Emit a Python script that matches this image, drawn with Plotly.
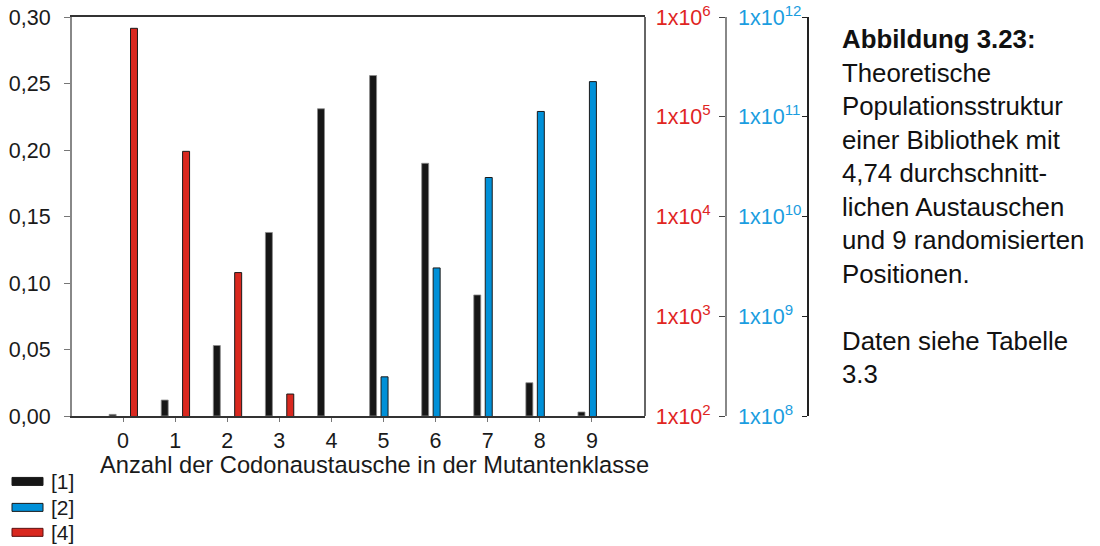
import plotly.graph_objects as go

# ---------------- data ----------------
klassen = [0, 1, 2, 3, 4, 5, 6, 7, 8, 9]
x_ticktext = ["0", "1", "2", "3", "4", "5", "6", "7", "8", "9"]
serie_namen = ["[1]", "[2]", "[4]"]
anteil_1 = [0.0012, 0.012, 0.053, 0.138, 0.231, 0.256, 0.190, 0.091, 0.025, 0.003]
wert_2 = [None, None, None, None, None, 2.47e8, 3.05e9, 2.46e10, 1.13e11, 2.25e11]
wert_4 = [7.7e5, 4.5e4, 2.74e3, 1.66e2, None, None, None, None, None, None]
links_ticks = [0.0, 0.05, 0.10, 0.15, 0.20, 0.25, 0.30]
rot_exponenten = [2, 3, 4, 5, 6]
blau_exponenten = [8, 9, 10, 11, 12]
x_titel = "Anzahl der Codonaustausche in der Mutantenklasse"
caption_lines = ["<b>Abbildung 3.23:</b>", "Theoretische", "Populationsstruktur",
                 "einer Bibliothek mit", "4,74 durchschnitt-", "lichen Austauschen",
                 "und 9 randomisierten", "Positionen.", "", "Daten siehe Tabelle", "3.3"]

# ---------------- geometry helpers ----------------
W, H = 1100, 546
L, T, B = 72, 17, 416.5
R_MARGIN = 292
PW = W - L - R_MARGIN
PH = B - T


def px(x):
    return (x - L) / PW


def py(y):
    return (B - y) / PH


FONT = "Liberation Sans, Arial, sans-serif"
TXT = "#1a1a1a"
RED_T = "#e0251f"
BLUE_T = "#1a9de0"
BLACK_F = "#161616"
BLUE_F = "#0090d8"
RED_F = "#d9281f"

rot_vals = [10 ** e for e in rot_exponenten]
rot_text = ["1x10<sup>%d</sup>" % e for e in rot_exponenten]
blau_vals = [10 ** e for e in blau_exponenten]
blau_text = ["1x10<sup>%d</sup>" % e for e in blau_exponenten]

fig = go.Figure()
fig.add_trace(go.Bar(x=klassen, y=anteil_1, name=serie_namen[0], yaxis="y",
                     width=0.134, offset=-0.267,
                     marker=dict(color=BLACK_F, line=dict(color="#8a8a8a", width=0.8)),
                     showlegend=False))
fig.add_trace(go.Bar(x=klassen, y=wert_2, name=serie_namen[1], yaxis="y4",
                     width=0.134, offset=-0.047,
                     marker=dict(color=BLUE_F, line=dict(color="#1a1a1a", width=1)),
                     showlegend=False))
# invisible copy of series [2] so that the label-only blue axis is rendered
fig.add_trace(go.Scatter(x=klassen, y=wert_2, yaxis="y3", mode="markers",
                         marker=dict(opacity=0), hoverinfo="skip", showlegend=False))
fig.add_trace(go.Bar(x=klassen, y=wert_4, name=serie_namen[2], yaxis="y2",
                     width=0.134, offset=0.143,
                     marker=dict(color=RED_F, line=dict(color="#1a1a1a", width=1)),
                     showlegend=False))

fig.update_layout(
    width=W, height=H,
    margin=dict(l=L, r=R_MARGIN, t=T, b=H - B, pad=0, autoexpand=False),
    paper_bgcolor="white", plot_bgcolor="white",
    separators=",.",
    barmode="overlay",
    font=dict(family=FONT, size=21, color=TXT),
    xaxis=dict(domain=[0, px(645)], range=[-0.98, 10.02], automargin=False,
               tickvals=klassen, ticktext=x_ticktext,
               showline=True, linecolor="#333333", linewidth=1.5, mirror=True,
               ticks="outside", ticklen=4, tickcolor="#777777", tickwidth=1,
               showgrid=False, zeroline=False,
               tickfont=dict(size=21.5, color=TXT)),
    yaxis=dict(range=[0, 0.30], tickvals=links_ticks, tickformat=".2f", automargin=False,
               showline=True, linecolor="#888888", linewidth=2,
               ticks="outside", ticklen=6, tickcolor="#777777", tickwidth=1,
               ticklabelstandoff=9,
               showgrid=False, zeroline=False,
               tickfont=dict(size=21.5, color=TXT)),
    yaxis2=dict(overlaying="y", type="log", range=[2, 6], side="left", automargin=False,
                anchor="free", position=px(726),
                tickvals=rot_vals, ticktext=rot_text,
                showline=True, linecolor="#888888", linewidth=2,
                ticks="outside", ticklen=6, tickcolor="#444444", tickwidth=1,
                ticklabelstandoff=4,
                showgrid=False, zeroline=False,
                tickfont=dict(size=21.5, color=RED_T)),
    yaxis3=dict(overlaying="y", type="log", range=[8, 12], side="right", automargin=False,
                anchor="free", position=px(737),
                tickvals=blau_vals, ticktext=blau_text,
                showline=False, ticks="", showgrid=False, zeroline=False,
                tickfont=dict(size=21.5, color=BLUE_T)),
    yaxis4=dict(overlaying="y", type="log", range=[8, 12], side="left", automargin=False,
                anchor="free", position=1.0,
                tickvals=blau_vals, showticklabels=False,
                showline=True, linecolor="#222222", linewidth=1.5,
                ticks="outside", ticklen=5, tickcolor="#222222", tickwidth=1,
                showgrid=False, zeroline=False),
)

# right border of the plot box
fig.add_shape(type="line", xref="x domain", yref="y domain", x0=1, x1=1, y0=0, y1=1,
              line=dict(color="#333333", width=1.5))

# x-axis title
fig.add_annotation(x=px(374), y=py(466), xref="paper", yref="paper", text=x_titel,
                   showarrow=False, xanchor="center", yanchor="middle",
                   font=dict(size=23.7, color=TXT, family=FONT))

# caption
fig.add_annotation(x=px(840), y=py(206.5), xref="paper", yref="paper",
                   text="<br>".join(caption_lines), align="left",
                   showarrow=False, xanchor="left", yanchor="middle",
                   font=dict(size=25.8, color="#111111", family=FONT))

# legend (drawn manually)
leg_colors = [BLACK_F, BLUE_F, RED_F]
leg_lines = ["#1a1a1a", "#1a1a1a", "#5a1010"]
leg_y = [482, 508, 533]
for name, col, lc, yc in zip(serie_namen, leg_colors, leg_lines, leg_y):
    fig.add_shape(type="rect", xref="paper", yref="paper",
                  x0=px(12), x1=px(43), y0=py(yc + 4), y1=py(yc - 4),
                  fillcolor=col, line=dict(color=lc, width=1))
    fig.add_annotation(x=px(49), y=py(yc), xref="paper", yref="paper", text=name,
                       showarrow=False, xanchor="left", yanchor="middle",
                       font=dict(size=21, color=TXT, family=FONT))

fig.write_html("out.html", config={"displayModeBar": False},
               post_script="document.body.style.margin='0px';")
